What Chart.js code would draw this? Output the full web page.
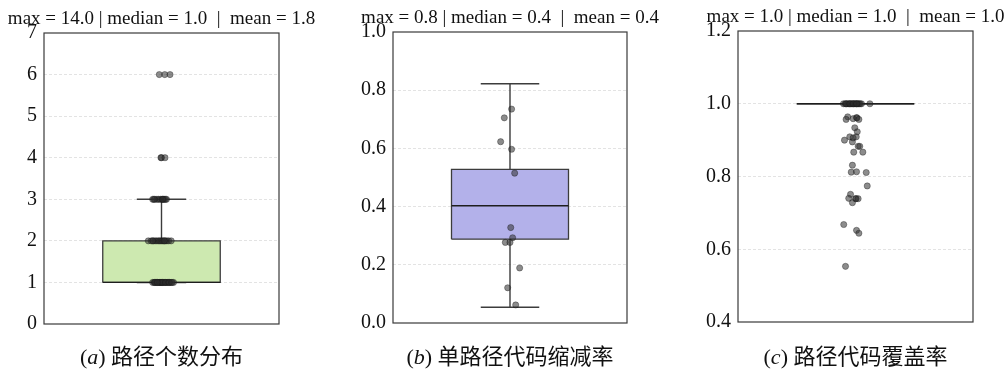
<!DOCTYPE html>
<html lang="zh">
<head>
<meta charset="UTF-8">
<title>路径统计箱线图</title>
<script src="https://cdn.jsdelivr.net/npm/chart.js"></script>
<style>
  body { margin: 0; background: #fff; }
  #wrap { position: relative; width: 1005px; height: 370px; overflow: hidden; }
  .panel { position: absolute; top: 0; width: 335px; height: 370px; }
  .title, .caption { position: absolute; white-space: pre; transform: translateX(-50%); color: #111; }
  .title { font-family: 'Liberation Serif', serif; font-size: 19px; line-height: 19px; }
  .caption { font-family: 'Liberation Serif', 'Noto Sans CJK SC', serif; font-size: 22px; line-height: 22px; }
</style>
</head>
<body>
<div id="wrap">
  <div class="panel" style="left:0"><canvas id="chartA" width="335" height="370"></canvas></div>
  <div class="panel" style="left:335px"><canvas id="chartB" width="335" height="370"></canvas></div>
  <div class="panel" style="left:670px"><canvas id="chartC" width="335" height="370"></canvas></div>
</div>
<script>
// ---- data ----
const titles = [
  'max = 14.0 | median = 1.0  |  mean = 1.8',
  'max = 0.8 | median = 0.4  |  mean = 0.4',
  'max = 1.0 | median = 1.0  |  mean = 1.0'
];
const captions = ['a', 'b', 'c'];
const captionTexts = ['路径个数分布', '单路径代码缩减率', '路径代码覆盖率'];

const ticksA = ['0', '1', '2', '3', '4', '5', '6', '7'];
const ticksB = ['0.0', '0.2', '0.4', '0.6', '0.8', '1.0'];
const ticksC = ['0.4', '0.6', '0.8', '1.0', '1.2'];

// q1, median, q3
const boxA = [1, 1, 2];
const boxB = [0.288, 0.403, 0.528];
const boxC = [1, 1, 1];
// lower / upper whisker
const whiskA = [1, 3];
const whiskB = [0.054, 0.822];
const whiskC = [1, 1];

// strip points: values and horizontal jitter
const pointsAy = [
  6, 6, 6,
  4, 4, 4,
  3, 3, 3, 3, 3, 3, 3, 3, 3, 3, 3, 3,
  2, 2, 2, 2, 2, 2, 2, 2, 2, 2, 2, 2, 2, 2, 2, 2,
  1, 1, 1, 1, 1, 1, 1, 1, 1, 1, 1, 1, 1, 1, 1, 1, 1, 1, 1, 1, 1, 1, 1, 1, 1
];
const pointsAx = [
  -0.015, 0.022, 0.058,
  -0.004, 0.0, 0.024,
  -0.06, -0.045, -0.031, -0.02, -0.008, 0.003, 0.012, 0.019, 0.027, 0.034, -0.052, 0.008,
  -0.09, -0.07, -0.055, -0.043, -0.032, -0.021, -0.012, -0.003, 0.006, 0.015, 0.026, 0.037, 0.049, 0.066, -0.06, 0.02,
  -0.06, -0.05, -0.041, -0.033, -0.025, -0.017, -0.01, -0.004, 0.002, 0.009, 0.016, 0.023, 0.031, 0.039, 0.047, 0.056, 0.066, 0.082, -0.045, -0.012, 0.005, 0.028, 0.052, 0.072, -0.028
];
const pointsBy = [0.735, 0.705, 0.623, 0.597, 0.515, 0.328, 0.293, 0.277, 0.277, 0.189, 0.121, 0.062];
const pointsBx = [0.011, -0.039, -0.064, 0.011, 0.032, 0.005, 0.018, -0.032, 0.0, 0.066, -0.016, 0.039];
const pointsCy = [
  1, 1, 1, 1, 1, 1, 1, 1, 1, 1, 1, 1, 1, 1, 1, 1, 1, 1, 1, 1, 1,
  0.964, 0.957, 0.959, 0.962, 0.961, 0.957, 0.934, 0.923, 0.909, 0.906, 0.909, 0.900, 0.895,
  0.883, 0.883, 0.867, 0.867, 0.831, 0.812, 0.813, 0.811, 0.774, 0.751, 0.740, 0.739, 0.739,
  0.739, 0.728, 0.668, 0.652, 0.644, 0.553
];
const pointsCx = [
  -0.082, -0.07, -0.06, -0.05, -0.042, -0.034, -0.026, -0.018, -0.01, -0.003, 0.004, 0.011, 0.018, 0.025, 0.032, 0.041, -0.064, -0.038, -0.015, 0.008, 0.098,
  -0.053, -0.064, -0.016, 0.007, 0.01, 0.023, -0.005, 0.012, -0.039, -0.016, 0.005, -0.075, -0.021,
  0.018, 0.029, -0.012, 0.05, -0.021, -0.029, 0.007, 0.073, 0.08, -0.034, -0.046, 0.0, 0.004,
  0.018, -0.021, -0.08, 0.007, 0.023, -0.068
];

// ---- chart building ----
const boxHalf = 0.4;

const framePlugin = {
  id: 'frame',
  afterDatasetsDraw(chart) {
    const { ctx, chartArea: a } = chart;
    ctx.save();
    ctx.strokeStyle = '#3a3a3a';
    ctx.lineWidth = 1.2;
    ctx.strokeRect(a.left, a.top, a.right - a.left, a.bottom - a.top);
    ctx.restore();
  }
};

function lineSet(data, color, width, order) {
  return {
    data: data, showLine: true, pointRadius: 0, tension: 0,
    borderColor: color, borderWidth: width, fill: false, order: order
  };
}

function buildDatasets(box, whisk, cap, fillColor, xs, ys) {
  const [q1, med, q3] = box;
  const [lo, hi] = whisk;
  const w = boxHalf;
  return [
    {
      data: xs.map((x, i) => ({ x: x, y: ys[i] })),
      showLine: false, pointRadius: 3.1,
      pointBackgroundColor: 'rgba(45,45,45,0.55)',
      pointBorderColor: 'rgba(20,20,20,0.6)',
      pointBorderWidth: 0.6, order: 0
    },
    lineSet([{ x: -w, y: med }, { x: w, y: med }], '#1e1e1e', 1.3, 1),
    lineSet([{ x: -w, y: q1 }, { x: w, y: q1 }, { x: w, y: q3 }, { x: -w, y: q3 }, { x: -w, y: q1 }], '#3c3c3c', 1.3, 2),
    {
      data: [{ x: -w, y: q3 }, { x: w, y: q3 }],
      showLine: true, pointRadius: 0, borderWidth: 0,
      fill: { value: q1 }, backgroundColor: fillColor, order: 3
    },
    lineSet([
      { x: -cap, y: hi }, { x: cap, y: hi }, { x: 0, y: hi },
      { x: 0, y: lo }, { x: -cap, y: lo }, { x: cap, y: lo }
    ], '#3c3c3c', 1.4, 4)
  ];
}

function makeChart(id, datasets, yMin, yMax, step, tickLabels, axisWidth, pad) {
  const lastIdx = tickLabels.length - 1;
  return new Chart(document.getElementById(id), {
    type: 'scatter',
    data: { datasets: datasets },
    options: {
      responsive: false,
      animation: false,
      events: [],
      layout: { padding: pad },
      plugins: { legend: { display: false }, tooltip: { enabled: false } },
      scales: {
        x: { type: 'linear', min: -0.8, max: 0.8, display: false },
        y: {
          min: yMin, max: yMax,
          afterFit: (scale) => { scale.width = axisWidth; },
          ticks: {
            stepSize: step,
            padding: 7,
            color: '#111',
            font: { family: "'Liberation Serif', serif", size: 20 },
            callback: (value, index) => tickLabels[index]
          },
          grid: {
            drawTicks: false,
            lineWidth: 0.8,
            color: (ctx) => (ctx.index === 0 || ctx.index === lastIdx) ? 'rgba(0,0,0,0)' : '#dcdcdc'
          },
          border: { display: false, dash: [3, 2] }
        }
      }
    },
    plugins: [framePlugin]
  });
}

const charts = [
  makeChart('chartA', buildDatasets(boxA, whiskA, 0.168, '#cde9b0', pointsAx, pointsAy),
    0, 7, 1, ticksA, 40, { left: 4, right: 56, top: 33, bottom: 46 }),
  makeChart('chartB', buildDatasets(boxB, whiskB, 0.2, '#b3b1ea', pointsBx, pointsBy),
    0, 1, 0.2, ticksB, 48, { left: 10, right: 43, top: 32, bottom: 47 }),
  makeChart('chartC', buildDatasets(boxC, whiskC, 0, '#b3d4ea', pointsCx, pointsCy),
    0.4, 1.2, 0.2, ticksC, 48, { left: 20, right: 32, top: 31, bottom: 48 })
];

// titles and captions centred on each plot area
charts.forEach((chart, i) => {
  const panel = chart.canvas.parentNode;
  const a = chart.chartArea;
  const cx = (a.left + a.right) / 2;

  const t = document.createElement('div');
  t.className = 'title';
  t.textContent = titles[i];
  t.style.left = cx + 'px';
  t.style.top = (a.top - 25) + 'px';
  panel.appendChild(t);

  const c = document.createElement('div');
  c.className = 'caption';
  const it = document.createElement('i');
  it.textContent = captions[i];
  c.appendChild(document.createTextNode('('));
  c.appendChild(it);
  c.appendChild(document.createTextNode(') ' + captionTexts[i]));
  c.style.left = cx + 'px';
  c.style.top = '346px';
  panel.appendChild(c);
});
</script>
</body>
</html>
